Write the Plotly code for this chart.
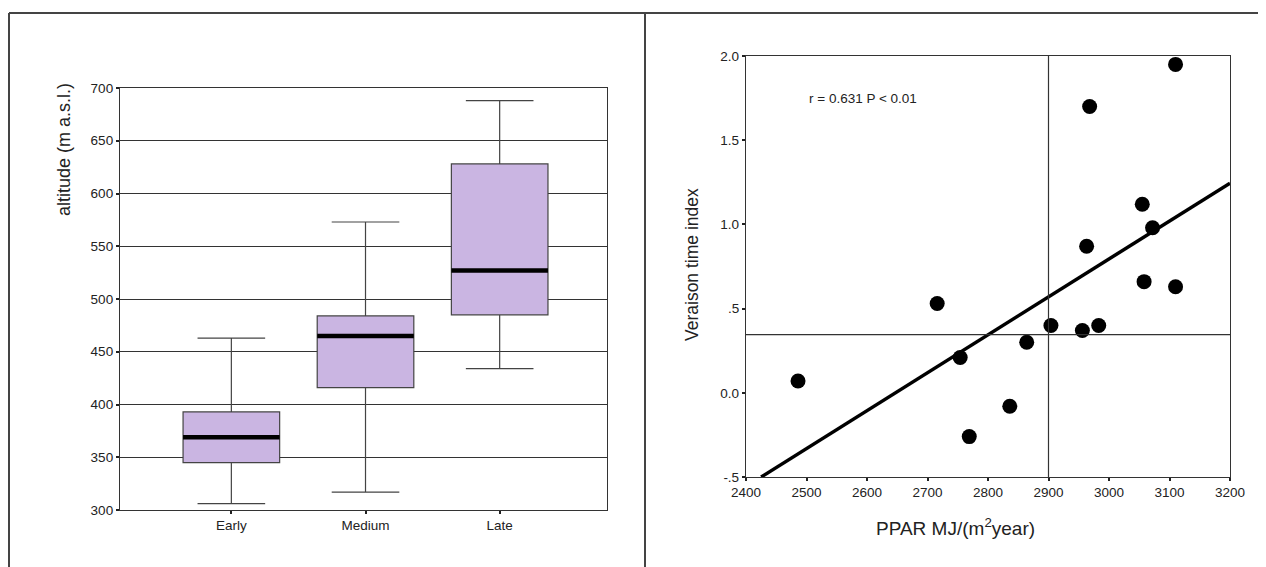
import plotly.graph_objects as go

# ---------------- data ----------------
# left panel: box plot of altitude by veraison class
categories = ["Early", "Medium", "Late"]
lower_whisker = [306, 317, 434]
q1_vals = [345, 416, 485]
median_vals = [369, 465, 527]
q3_vals = [393, 484, 628]
upper_whisker = [463, 573, 688]
alt_ticks = [300, 350, 400, 450, 500, 550, 600, 650, 700]

# right panel: scatter of veraison time index vs PPAR
ppar = [2486, 2716, 2754, 2769, 2836, 2864, 2904, 2956, 2983, 2963, 2968,
        3055, 3072, 3058, 3110, 3110]
veraison = [0.07, 0.53, 0.21, -0.26, -0.08, 0.30, 0.40, 0.37, 0.40, 0.87, 1.70,
            1.12, 0.98, 0.66, 0.63, 1.95]
fit_x = [2425, 3200]
fit_y = [-0.5, 1.245]
ref_x = 2900
ref_y = 0.345
ppar_ticks = [2400, 2500, 2600, 2700, 2800, 2900, 3000, 3100, 3200]
vti_ticks = [-0.5, 0.0, 0.5, 1.0, 1.5, 2.0]
vti_ticktext = ["-.5", "0.0", ".5", "1.0", "1.5", "2.0"]
annotation_text = "r = 0.631 P < 0.01"

# ---------------- figure ----------------
W, H = 1266, 567
OFF = 8  # page body margin of the rendered html
FONT = "Liberation Sans, Arial, sans-serif"
TXT = "#222222"

def px_x(p):
    return (p - OFF) / W

def px_y(p):
    return 1 - (p - OFF) / H

fig = go.Figure()

fig.add_trace(go.Box(
    x=categories, q1=q1_vals, median=median_vals, q3=q3_vals,
    lowerfence=lower_whisker, upperfence=upper_whisker,
    fillcolor="#cab5e2", line=dict(color="#444444", width=1.2),
    width=0.72, whiskerwidth=0.7, boxpoints=False,
    xaxis="x", yaxis="y", showlegend=False, hoverinfo="skip",
))
# thick median bars (line-ew symbol length = 1.4 * size)
fig.add_trace(go.Scatter(
    x=categories, y=median_vals, mode="markers",
    marker=dict(symbol="line-ew", size=69, color="#000000",
                line=dict(color="#000000", width=4.5)),
    xaxis="x", yaxis="y", showlegend=False, hoverinfo="skip",
))

# right panel traces
fig.add_trace(go.Scatter(
    x=fit_x, y=fit_y, mode="lines",
    line=dict(color="#000000", width=3.5),
    xaxis="x2", yaxis="y2", showlegend=False, hoverinfo="skip",
))
fig.add_trace(go.Scatter(
    x=ppar, y=veraison, mode="markers",
    marker=dict(size=15, color="#000000"),
    xaxis="x2", yaxis="y2", showlegend=False,
))

axis_common = dict(
    showline=True, linecolor="#333333", linewidth=1.3, mirror=True,
    ticks="outside", ticklen=3, tickwidth=2, tickcolor="#222222",
    tickfont=dict(family=FONT, size=13.5, color=TXT), zeroline=False,
    automargin=False,
)

fig.update_layout(
    width=W, height=H,
    margin=dict(l=0, r=0, t=0, b=0, pad=0),
    paper_bgcolor="white", plot_bgcolor="white",
    font=dict(family=FONT, color=TXT),
    xaxis=dict(
        domain=[px_x(120), px_x(607)], anchor="y",
        type="category", categoryorder="array", categoryarray=categories,
        range=[-0.83, 2.80], showgrid=False, **axis_common,
    ),
    yaxis=dict(
        domain=[px_y(510), px_y(88)], anchor="x",
        range=[300, 700], tickvals=alt_ticks,
        showgrid=True, gridcolor="#333333", gridwidth=1.2,
        **axis_common,
    ),
    xaxis2=dict(
        domain=[px_x(746), px_x(1230)], anchor="y2",
        range=[2400, 3200], tickvals=ppar_ticks, showgrid=False,
        **axis_common,
    ),
    yaxis2=dict(
        domain=[px_y(477), px_y(56)], anchor="x2",
        range=[-0.5, 2.0], tickvals=vti_ticks, ticktext=vti_ticktext,
        showgrid=False,
        **axis_common,
    ),
)

# reference lines in right panel
fig.add_shape(type="line", xref="x2", yref="y2 domain", x0=ref_x, x1=ref_x,
              y0=0, y1=1, line=dict(color="#333333", width=1.2))
fig.add_shape(type="line", xref="x2 domain", yref="y2", x0=0, x1=1,
              y0=ref_y, y1=ref_y, line=dict(color="#333333", width=1.2))

# outer frame: top, left border and panel divider
frame = dict(color="#444444", width=2)
fig.add_shape(type="line", xref="paper", yref="paper",
              x0=px_x(9), x1=1, y0=px_y(13), y1=px_y(13), line=frame)
fig.add_shape(type="line", xref="paper", yref="paper",
              x0=px_x(9), x1=px_x(9), y0=0, y1=px_y(13), line=frame)
fig.add_shape(type="line", xref="paper", yref="paper",
              x0=px_x(645), x1=px_x(645), y0=0, y1=px_y(13), line=frame)

def label(text, x, y, size, angle=0):
    fig.add_annotation(text=text, xref="paper", yref="paper",
                       x=px_x(x), y=px_y(y), xanchor="center", yanchor="middle",
                       textangle=angle, showarrow=False,
                       font=dict(family=FONT, size=size, color=TXT))

# axis titles and the correlation note
label("altitude (m a.s.l.)", 64, 150, 18, -90)
label("Veraison time index", 692, 265, 17.5, -90)
label("PPAR MJ/(m<sup>2</sup>year)", 955, 527, 19)
label(annotation_text, 863, 98, 13.5)

fig.write_html("out.html")
